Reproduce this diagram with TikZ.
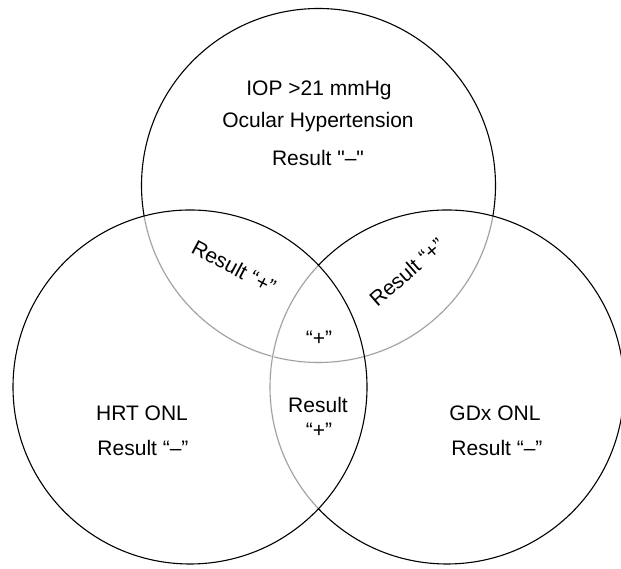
\documentclass[tikz,border=0pt]{standalone}
\usepackage{fontspec}
\newfontfamily\labfont{Liberation Sans}
\begin{document}
\begin{tikzpicture}[x=1pt,y=1pt,
  ring/.style={line width=1.1pt,draw=black},
  faded/.style={line width=1.1pt,draw=vgray},
  under/.style={line width=2.2pt,draw=white},
  lbl/.style={font=\labfont\fontsize{21}{25}\selectfont,inner sep=0pt,align=center}]
\definecolor{vgray}{HTML}{A0A0A0}
\useasboundingbox (0,0) rectangle (621,569);
\coordinate (ct) at (318.5,383.5);
\coordinate (cl) at (190,182);
\coordinate (cr) at (447,182);
\def\R{177}
% top circle
\draw[ring] (ct) circle[radius=\R];
\begin{scope}
  \clip (cr) circle[radius=\R];
  \draw[under] (ct) circle[radius=\R];
  \draw[faded] (ct) circle[radius=\R];
\end{scope}
% right circle
\draw[ring] (cr) circle[radius=\R];
\begin{scope}
  \clip (cl) circle[radius=\R];
  \draw[under] (ct) circle[radius=\R];
  \draw[faded] (ct) circle[radius=\R];
  \draw[under] (cr) circle[radius=\R];
  \draw[faded] (cr) circle[radius=\R];
\end{scope}
% left circle
\draw[ring] (cl) circle[radius=\R];
% labels
\node[lbl] (iop) at (319,479) {IOP >21 mmHg};
\node[lbl] (ocu) at (318,447) {Ocular Hypertension};
\node[lbl] (rtop) at (318,411) {Result "–"};
\node[lbl,rotate=-28] (rl) at (234,302) {Result “+”};
\node[lbl,rotate=41] (rr) at (407,297) {Result “+”};
\node[lbl] (pc) at (319,231) {“+”};
\node[lbl] (rb1) at (318,164) {Result};
\node[lbl] (rb2) at (319,139) {“+”};
\node[lbl] (hrt) at (142,156) {HRT ONL};
\node[lbl] (hrtr) at (143,121) {Result “–”};
\node[lbl] (gdx) at (495,156) {GDx ONL};
\node[lbl] (gdxr) at (497,121) {Result “–”};
\end{tikzpicture}
\end{document}
